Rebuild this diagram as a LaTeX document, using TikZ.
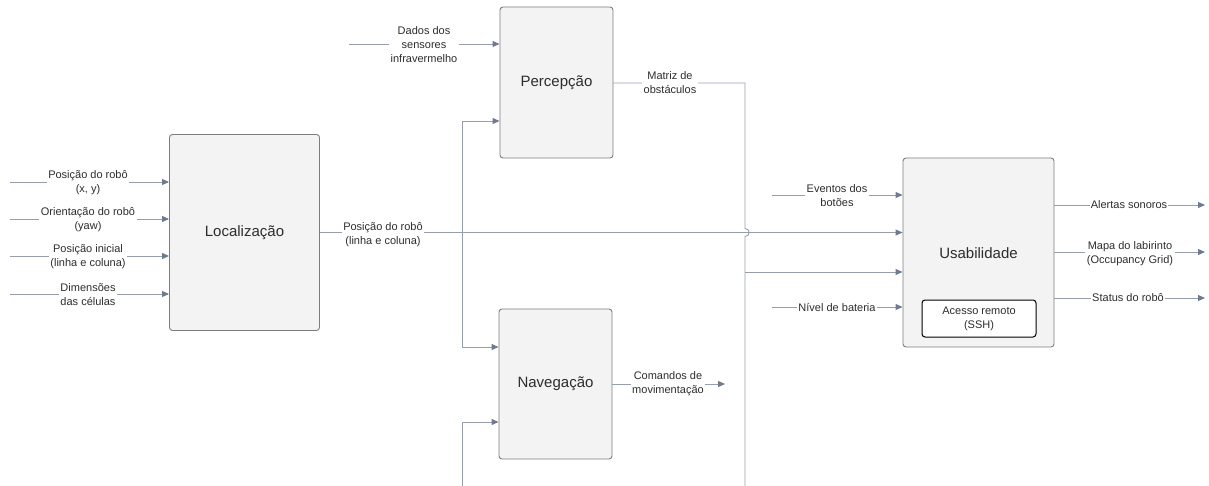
\documentclass[tikz,border=0pt]{standalone}
\usepackage{fontspec}
\setmainfont{Liberation Sans}
\usetikzlibrary{arrows.meta}
\definecolor{wire}{RGB}{150,158,172}
\definecolor{tip}{RGB}{110,122,143}
\definecolor{boxline}{RGB}{125,125,125}
\definecolor{boxfill}{RGB}{243,243,243}
\definecolor{txt}{RGB}{45,45,45}
\begin{document}
\begin{tikzpicture}[x=1pt,y=-1pt,
  block/.style={draw=boxline,fill=boxfill,rounded corners=3pt,line width=0.9pt,
    inner sep=0pt,text=txt,font=\fontsize{15}{18}\selectfont},
  inner/.style={draw=black,fill=white,rounded corners=3pt,line width=1pt,
    inner sep=0pt,align=center,text=txt,font=\fontsize{11}{14}\selectfont},
  lbl/.style={fill=white,inner sep=1.5pt,align=center,text=txt,
    font=\fontsize{11}{14}\selectfont},
  wireline/.style={draw=wire,line width=0.9pt},
  flow/.style={wireline,-{Triangle[length=7pt,width=6pt,color=tip]}}]

\useasboundingbox (0,0) rectangle (1209,486);

% processing blocks
\node[block,minimum width=150pt,minimum height=196pt] (loc) at (244.5,232.5) {Localização};
\node[block,minimum width=113pt,minimum height=151pt] (perc) at (556.5,82.5) {Percepção};
\node[block,minimum width=113pt,minimum height=150pt] (nav) at (555.5,384) {Navegação};
\node[block,minimum width=151pt,minimum height=189pt] (usa) at (978.5,252.5) {};
\node[text=txt,font=\fontsize{15}{18}\selectfont] (usat) at (978.5,253) {Usabilidade};
\node[inner,minimum width=114pt,minimum height=37pt] (ssh) at (979,318.5) {Acesso remoto\\(SSH)};

% free ends of the inputs and outputs
\coordinate (in1) at (10,182);
\coordinate (in2) at (10,219);
\coordinate (in3) at (10,256);
\coordinate (in4) at (10,294);
\coordinate (inS) at (349,44);
\coordinate (inE) at (772,195);
\coordinate (inB) at (772,307);
\coordinate (outA) at (1205,205);
\coordinate (outM) at (1205,252);
\coordinate (outS) at (1205,298);
\coordinate (outC) at (725,384);
\coordinate (busP) at (462,121);
\coordinate (busN) at (462,347);
\coordinate (busR) at (462,232.5);
\coordinate (busB) at (462,486);
\coordinate (navB) at (462,422);
\coordinate (mtx) at (745,83);
\coordinate (hopA) at (745,228.5);
\coordinate (hopB) at (745,236.5);
\coordinate (mtxU) at (745,272);
\coordinate (mtxB) at (745,486);

% inputs of Localização
\draw[flow] (in1) -- (in1 -| loc.west);
\draw[flow] (in2) -- (in2 -| loc.west);
\draw[flow] (in3) -- (in3 -| loc.west);
\draw[flow] (in4) -- (in4 -| loc.west);
\node[lbl] (l1) at (88,183) {Posição do robô\\(x, y)};
\node[lbl] (l2) at (88,220) {Orientação do robô\\(yaw)};
\node[lbl] (l3) at (88,257) {Posição inicial\\(linha e coluna)};
\node[lbl] (l4) at (88,295) {Dimensões\\das células};

% robot position bus
\draw[wireline] (busP) -- (busN);
\draw[flow] (busP) -- (busP -| perc.west);
\draw[flow] (busN) -- (busN -| nav.west);
\draw[flow] (busB) -- (navB) -- (navB -| nav.west);
\draw[flow] (busR -| loc.east) -- (busR -| usa.west);
\node[lbl] (lr) at (383,234.5) {Posição do robô\\(linha e coluna)};

% Percepção input and obstacle matrix (hopping over the position line)
\draw[flow] (inS) -- (inS -| perc.west);
\node[lbl] (ls) at (424,45) {Dados dos\\sensores\\infravermelho};
\draw[wireline] (mtx -| perc.east) -- (mtx) -- (hopA)
  .. controls (750.5,228.5) and (750.5,236.5) .. (hopB) -- (mtxB);
\draw[flow] (mtxU) -- (mtxU -| usa.west);
\node[lbl] (lm) at (670,83) {Matriz de\\obstáculos};

% Navegação output
\draw[flow] (outC -| nav.east) -- (outC);
\node[lbl] (lc) at (668,384) {Comandos de\\movimentação};

% Usabilidade inputs
\draw[flow] (inE) -- (inE -| usa.west);
\node[lbl] (le) at (837,196) {Eventos dos\\botões};
\draw[flow] (inB) -- (inB -| usa.west);
\node[lbl,inner sep=1pt] (lb) at (837,307.5) {Nível de bateria};

% Usabilidade outputs
\draw[flow] (outA -| usa.east) -- (outA);
\node[lbl,inner sep=1pt] (la) at (1129,205) {Alertas sonoros};
\draw[flow] (outM -| usa.east) -- (outM);
\node[lbl] (lmp) at (1130,254) {Mapa do labirinto\\(Occupancy Grid)};
\draw[flow] (outS -| usa.east) -- (outS);
\node[lbl,inner sep=1pt] (lst) at (1128,298) {Status do robô};
\end{tikzpicture}
\end{document}
